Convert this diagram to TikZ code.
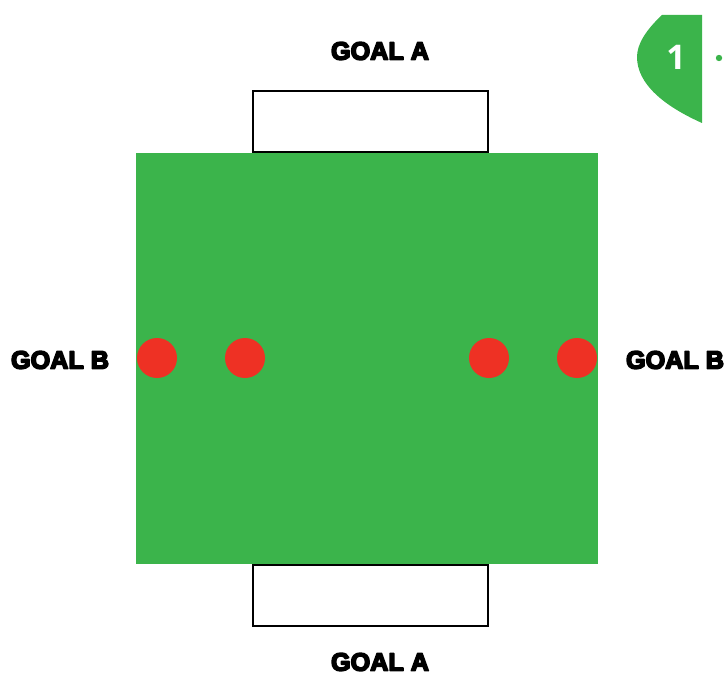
\documentclass[tikz,border=0pt]{standalone}
\usepackage{fontspec}
\usepackage{xcolor}
\usepackage{tikz}
\usetikzlibrary{positioning,calc}
\newfontfamily\goalfont{Liberation Sans}
\newfontfamily\badgefont{Open Sans}
\definecolor{fieldgreen}{HTML}{3BB44B}
\definecolor{conered}{HTML}{EE3124}
% heavier letters: fill and stroke the glyphs
\newcommand\heavytext[1]{\special{pdf:literal direct 2 Tr 1.4 w 1 j}#1\special{pdf:literal direct 0 Tr}}

\tikzset{
  goallabel/.style={font=\goalfont\bfseries\fontsize{21.5}{21.5}\selectfont, text=black, inner sep=0pt},
  goalbox/.style={draw=black, line width=1.6pt, fill=white},
  cone/.style={circle, fill=conered, minimum size=1.2cm, inner sep=0pt},
}

\begin{document}
\begin{tikzpicture}[x=0.03cm, y=-0.03cm]
\useasboundingbox (0,0) rectangle (726,677);
% pitch
\fill[fieldgreen] (136,153) rectangle (598,564);
\draw[goalbox] (253,91) rectangle (488,152);
\draw[goalbox] (253,565) rectangle (488,626);
% cones
\node[cone] (c1) at (157,358) {};
\node[cone] (c2) at (245,358) {};
\node[cone] (c3) at (489,358) {};
\node[cone] (c4) at (577,358) {};
% labels
\node[goallabel] (gatop) at (380,51) {\heavytext{GOAL A}};
\node[goallabel] (gabot) at (380,662) {\heavytext{GOAL A}};
\node[goallabel] (gbl) at (60,360) {\heavytext{GOAL B}};
\node[goallabel] (gbr) at (675,360) {\heavytext{GOAL B}};
% step badge
\fill[fieldgreen] (702,15) -- (662,15) .. controls (646,30) and (637,44) .. (637,57)
  .. controls (637,84) and (664,106) .. (702,123) -- cycle;
\node[font=\badgefont\bfseries\fontsize{29}{29}\selectfont, text=white, inner sep=0pt] (num) at (676,57) {1};
\fill[fieldgreen] (719,58) circle (3.2);
\end{tikzpicture}
\end{document}
